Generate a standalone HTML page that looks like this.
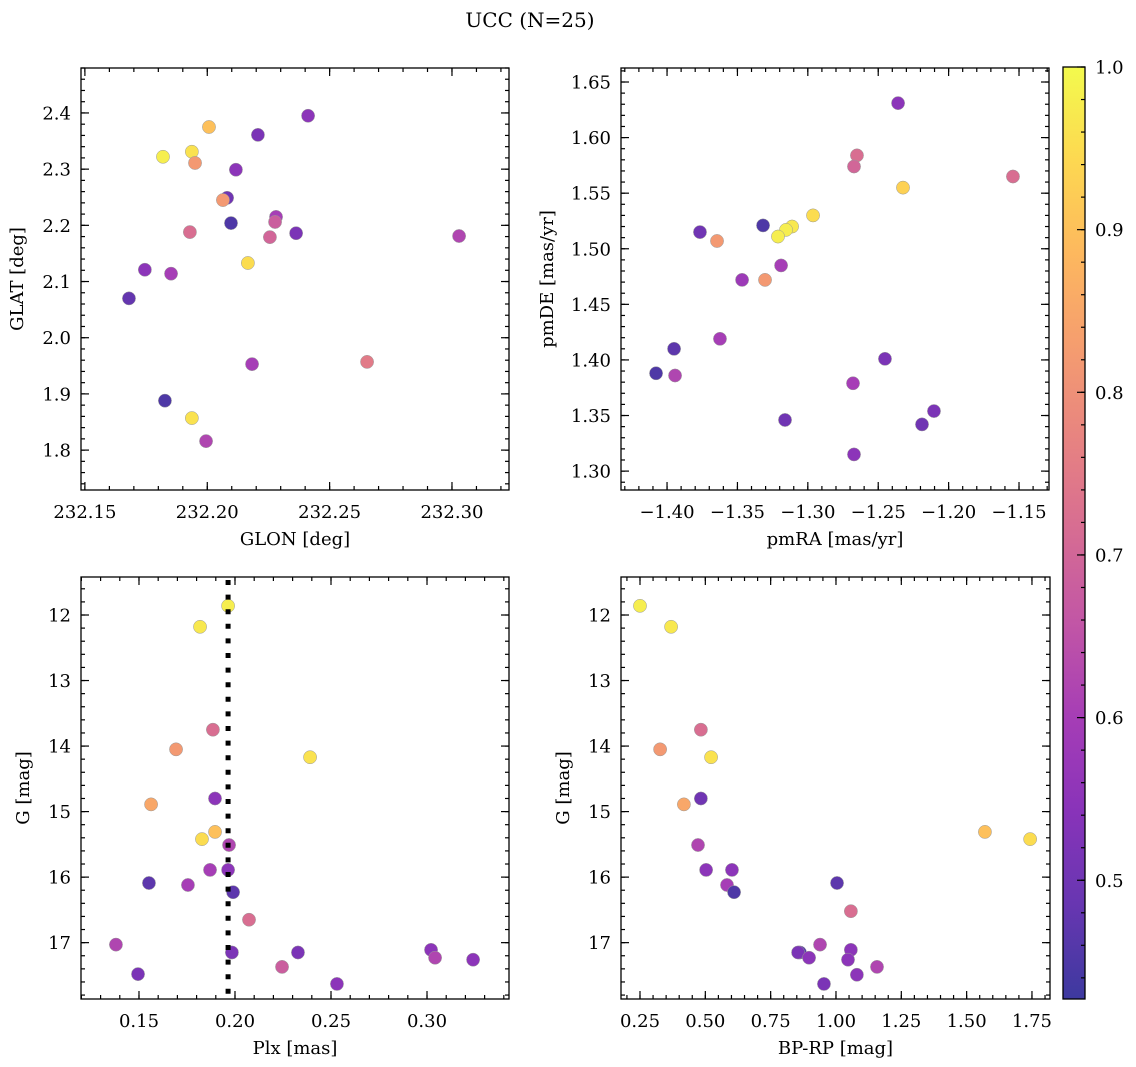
<!DOCTYPE html>
<html><head><meta charset="utf-8"><style>
html,body{margin:0;padding:0;background:#fff;}
svg{display:block;font-family:"DejaVu Serif","Liberation Serif",serif;}
</style></head><body>
<svg id="fig" width="1136" height="1067" viewBox="0 0 1136 1067" xmlns="http://www.w3.org/2000/svg">
<defs><linearGradient id="cbg" x1="0" y1="1" x2="0" y2="0"></linearGradient></defs>
<text x="530" y="27" font-size="20" text-anchor="middle">UCC (N=25)</text>
</svg>
<script>
// Panel 1: GLON / GLAT
const glon1=[232.2412,232.2207,232.2007,232.1819,232.1937,232.195,232.2117,232.2081,232.2064,232.2097,232.2281,232.2277,232.2256,232.2363,232.1929,232.3029,232.1745,232.1852,232.2166,232.168,232.2653,232.2183,232.1827,232.1937,232.1995];
const glat1=[2.395,2.361,2.375,2.322,2.331,2.311,2.299,2.249,2.245,2.204,2.215,2.206,2.179,2.186,2.188,2.181,2.121,2.114,2.133,2.07,1.957,1.953,1.888,1.857,1.816];
const prob1=[0.55,0.52,0.9,0.98,0.96,0.82,0.55,0.5,0.82,0.45,0.6,0.68,0.7,0.52,0.72,0.62,0.55,0.6,0.95,0.48,0.75,0.6,0.45,0.96,0.62];
// Panel 2: pmRA / pmDE
const pmra2=[-1.2359,-1.2651,-1.2672,-1.1543,-1.2324,-1.2963,-1.3318,-1.3112,-1.3155,-1.3212,-1.3766,-1.3645,-1.319,-1.3467,-1.3304,-1.3624,-1.395,-1.4078,-1.3943,-1.2452,-1.2679,-1.2104,-1.2189,-1.3162,-1.2672];
const pmde2=[1.631,1.584,1.574,1.565,1.555,1.530,1.521,1.520,1.517,1.511,1.515,1.507,1.485,1.472,1.472,1.419,1.410,1.388,1.386,1.401,1.379,1.354,1.342,1.346,1.315];
const prob2=[0.55,0.72,0.7,0.72,0.93,0.95,0.45,0.97,0.98,0.98,0.5,0.82,0.6,0.58,0.82,0.6,0.47,0.45,0.62,0.52,0.6,0.52,0.5,0.5,0.55];
// Panel 3: Plx / G
const plx3=[0.1964,0.1818,0.1885,0.1693,0.2391,0.1896,0.1563,0.1896,0.1828,0.1969,0.187,0.1964,0.1552,0.1755,0.199,0.2073,0.138,0.1984,0.2328,0.3021,0.3042,0.2245,0.324,0.1495,0.2531];
const g3=[11.86,12.18,13.75,14.05,14.17,14.80,14.89,15.31,15.42,15.51,15.89,15.89,16.09,16.12,16.23,16.65,17.03,17.15,17.15,17.11,17.23,17.37,17.26,17.48,17.63];
const prob3=[0.98,0.97,0.72,0.82,0.96,0.55,0.85,0.9,0.95,0.62,0.6,0.55,0.47,0.6,0.47,0.72,0.62,0.52,0.52,0.55,0.62,0.68,0.55,0.52,0.55];
const plxLine=[0.1964];
// Panel 4: BP-RP / G
const bprp4=[0.25,0.369,0.483,0.327,0.522,0.483,0.418,1.570,1.743,0.472,0.503,0.602,1.004,0.583,0.61,1.057,0.939,1.057,0.862,0.855,1.046,0.897,1.157,1.08,0.954];
const g4=[11.86,12.18,13.75,14.05,14.17,14.80,14.89,15.31,15.42,15.51,15.89,15.89,16.09,16.12,16.23,16.52,17.03,17.11,17.15,17.15,17.26,17.23,17.37,17.49,17.63];
const prob4=[0.98,0.97,0.72,0.82,0.96,0.5,0.85,0.9,0.95,0.62,0.55,0.55,0.47,0.6,0.45,0.72,0.62,0.55,0.45,0.52,0.55,0.55,0.62,0.55,0.52];
const cbTicks=[0.5,0.6,0.7,0.8,0.9,1.0];

const NS="http://www.w3.org/2000/svg";
const svg=document.getElementById('fig');
const VMIN=0.427,VMAX=1.0;
const stops=["#0d0887","#41049d","#6a00a8","#8f0da4","#b12a90","#cc4778","#e16462","#f2844b","#fca636","#fcce25","#f0f921"];
function hex(h){return [parseInt(h.substr(1,2),16),parseInt(h.substr(3,2),16),parseInt(h.substr(5,2),16)];}
function cmap(v){let t=(v-VMIN)/(VMAX-VMIN);t=Math.max(0,Math.min(1,t));const f=t*10;const i=Math.min(9,Math.floor(f));const a=hex(stops[i]),b=hex(stops[i+1]);const u=f-i;
 const c=a.map((x,k)=>Math.round((x+(b[k]-x)*u)*0.8+255*0.2));return `rgb(${c[0]},${c[1]},${c[2]})`;}
function mk(tag,attrs,parent){const e=document.createElementNS(NS,tag);for(const k in attrs)e.setAttribute(k,attrs[k]);(parent||svg).appendChild(e);return e;}
function fmt(v,d){let s=v.toFixed(d);return s.replace('-','\u2212');}

function panel(o){
 const g=mk('g',{});
 
 
 const sx=v=>o.x0+(v-o.xmin)/(o.xmax-o.xmin)*(o.x1-o.x0);
 const sy=o.inv? (v=>o.y0+(v-o.ymin)/(o.ymax-o.ymin)*(o.y1-o.y0)) : (v=>o.y1-(v-o.ymin)/(o.ymax-o.ymin)*(o.y1-o.y0));
 for(let i=0;i<o.xs.length;i++){
  const c=mk('circle',{cx:sx(o.xs[i]),cy:sy(o.ys[i]),r:6.6,fill:cmap(o.cs[i]),stroke:'#999',"stroke-width":0.5},g);
  
  
 }
 if(o.vline!==undefined){
  const l=mk('line',{x1:sx(o.vline),x2:sx(o.vline),y1:o.y0+3,y2:o.y1,stroke:'#000',"stroke-width":5,"stroke-dasharray":"5,9.6"},g);
  
  
 }
 const eps=1e-9;
 const ticks=(min,max,step)=>{const r=[];let s=Math.ceil(min/step-eps)*step;for(let v=s;v<=max+eps;v+=step)r.push(Math.round(v/step)*step);return r;};
 const tg=mk('g',{stroke:'#000',"stroke-width":1.2},g);
 for(const v of ticks(o.xmin,o.xmax,o.xminor)){const x=sx(v);mk('line',{x1:x,x2:x,y1:o.y1,y2:o.y1-4},tg);mk('line',{x1:x,x2:x,y1:o.y0,y2:o.y0+4},tg);}
 for(const v of ticks(o.xmin,o.xmax,o.xmajor)){const x=sx(v);mk('line',{x1:x,x2:x,y1:o.y1,y2:o.y1-8},tg);mk('line',{x1:x,x2:x,y1:o.y0,y2:o.y0+8},tg);
  const t=mk('text',{x:x,y:o.y1+28,"font-size":18,"text-anchor":"middle",stroke:'none'},g);t.textContent=fmt(v,o.xd);
  }
 for(const v of ticks(o.ymin,o.ymax,o.yminor)){const y=sy(v);mk('line',{x1:o.x0,x2:o.x0+4,y1:y,y2:y},tg);mk('line',{x1:o.x1,x2:o.x1-4,y1:y,y2:y},tg);}
 for(const v of ticks(o.ymin,o.ymax,o.ymajor)){const y=sy(v);mk('line',{x1:o.x0,x2:o.x0+8,y1:y,y2:y},tg);mk('line',{x1:o.x1,x2:o.x1-8,y1:y,y2:y},tg);
  const t=mk('text',{x:o.x0-10,y:y+6.5,"font-size":18,"text-anchor":"end",stroke:'none'},g);t.textContent=fmt(v,o.yd);
  }
 const fr=mk('rect',{x:o.x0,y:o.y0,width:o.x1-o.x0,height:o.y1-o.y0,fill:'none',stroke:'#000',"stroke-width":1.3},g);
 
 const xl=mk('text',{x:(o.x0+o.x1)/2,y:o.y1+55,"font-size":18,"text-anchor":"middle"},g);xl.textContent=o.xlabel;
 
 const cy=(o.y0+o.y1)/2;
 const yl=mk('text',{x:o.ylx,y:cy,"font-size":18,"text-anchor":"middle",transform:`rotate(-90 ${o.ylx} ${cy})`},g);yl.textContent=o.ylabel;
 
}
panel({name:'glon-glat-panel',x0:81,x1:509,y0:68,y1:490,xmin:232.1484,xmax:232.3233,ymin:1.729,ymax:2.48,xmajor:0.05,xminor:0.01,ymajor:0.1,yminor:0.02,xd:2,yd:1,xs:glon1,ys:glat1,cs:prob1,xlabel:'GLON [deg]',ylabel:'GLAT [deg]',ylx:23});
panel({name:'proper-motion-panel',x0:621,x1:1049,y0:68,y1:490,xmin:-1.4327,xmax:-1.1287,ymin:1.283,ymax:1.6626,xmajor:0.05,xminor:0.01,ymajor:0.05,yminor:0.01,xd:2,yd:2,xs:pmra2,ys:pmde2,cs:prob2,xlabel:'pmRA [mas/yr]',ylabel:'pmDE [mas/yr]',ylx:553});
panel({name:'plx-g-panel',x0:81,x1:509,y0:577,y1:999,xmin:0.1198,xmax:0.3427,ymin:11.42,ymax:17.86,inv:true,xmajor:0.05,xminor:0.01,ymajor:1,yminor:0.2,xd:2,yd:0,xs:plx3,ys:g3,cs:prob3,vline:plxLine[0],xlabel:'Plx [mas]',ylabel:'G [mag]',ylx:29});
panel({name:'cmd-panel',x0:621,x1:1050,y0:577,y1:999,xmin:0.1773,xmax:1.819,ymin:11.42,ymax:17.86,inv:true,xmajor:0.25,xminor:0.05,ymajor:1,yminor:0.2,xd:2,yd:0,xs:bprp4,ys:g4,cs:prob4,xlabel:'BP-RP [mag]',ylabel:'G [mag]',ylx:569});

const grad=document.getElementById('cbg');
for(let i=0;i<=20;i++){const v=VMIN+(VMAX-VMIN)*i/20;mk('stop',{offset:(i/20),"stop-color":cmap(v)},grad);}
const cbx0=1063,cbx1=1085,cby0=67,cby1=999;
const cb=mk('g',{});


mk('rect',{x:cbx0,y:cby0,width:cbx1-cbx0,height:cby1-cby0,fill:'url(#cbg)',stroke:'#000',"stroke-width":1.3},cb);
const cys=v=>cby1-(v-VMIN)/(VMAX-VMIN)*(cby1-cby0);
for(let v=0.44;v<=1.0001;v+=0.02){const y=cys(v);mk('line',{x1:cbx1,x2:cbx1-4,y1:y,y2:y,stroke:'#000',"stroke-width":1.2},cb);}
for(const v of cbTicks){const y=cys(v);mk('line',{x1:cbx1,x2:cbx1-8,y1:y,y2:y,stroke:'#000',"stroke-width":1.2},cb);
 const t=mk('text',{x:cbx1+10,y:y+6.5,"font-size":18},cb);t.textContent=v.toFixed(1);
 }
</script>
</body></html>
